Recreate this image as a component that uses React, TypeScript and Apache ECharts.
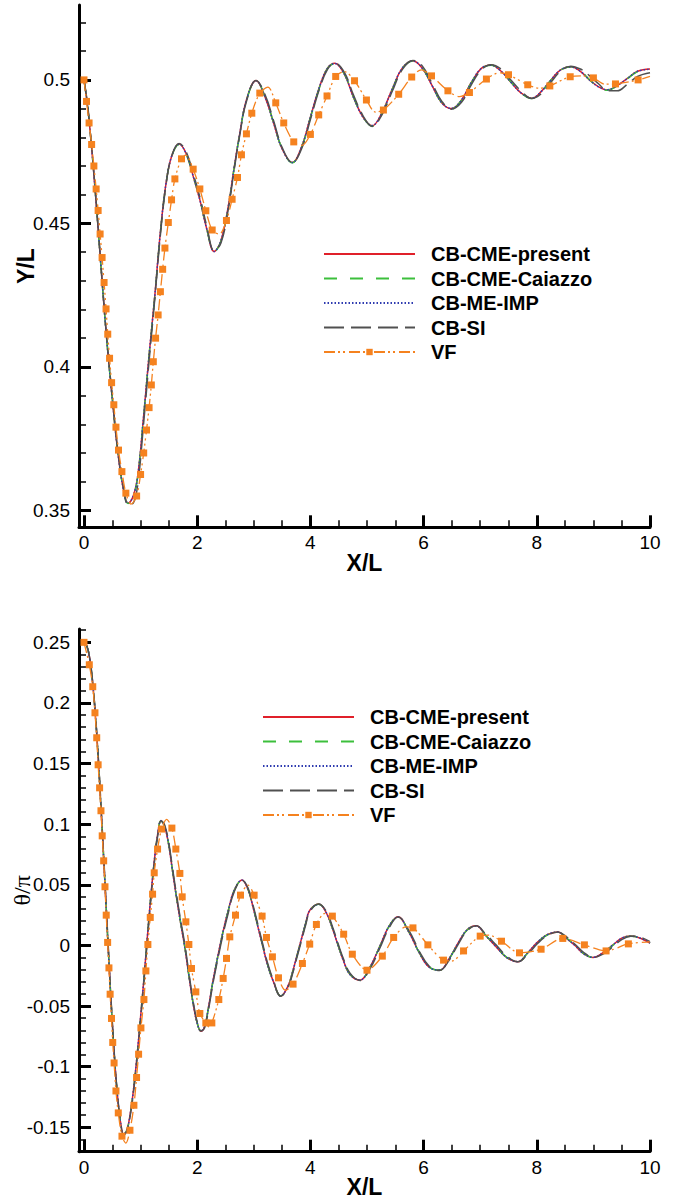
import React, { useEffect, useRef } from "react";
import * as echarts from "echarts";

const seriesNames = ["CB-CME-present", "CB-CME-Caiazzo", "CB-ME-IMP", "CB-SI", "VF"];

const xTicksMajor = [0, 2, 4, 6, 8, 10];
const xTicksMinor = [0.5, 1, 1.5, 2.5, 3, 3.5, 4.5, 5, 5.5, 6.5, 7, 7.5, 8.5, 9, 9.5];
const yTopMajor = [0.35, 0.4, 0.45, 0.5];
const yTopMinor = [0.36, 0.37, 0.38, 0.39, 0.41, 0.42, 0.43, 0.44, 0.46, 0.47, 0.48, 0.49, 0.51, 0.52];
const yBotMajor = [-0.15, -0.1, -0.05, 0, 0.05, 0.1, 0.15, 0.2, 0.25];
const yBotMinor = [-0.16, -0.14, -0.13, -0.12, -0.11, -0.09, -0.08, -0.07, -0.06, -0.04, -0.03, -0.02, -0.01,
  0.01, 0.02, 0.03, 0.04, 0.06, 0.07, 0.08, 0.09, 0.11, 0.12, 0.13, 0.14, 0.16, 0.17, 0.18, 0.19,
  0.21, 0.22, 0.23, 0.24, 0.26];

// ---- Top chart: Y/L ----
const xTop = [0, 0.05, 0.1, 0.2, 0.3, 0.4, 0.5, 0.6, 0.7, 0.78, 0.87, 0.95, 1.05, 1.15, 1.25, 1.35, 1.45, 1.55, 1.68,
  1.8, 1.95, 2.05, 2.17, 2.3, 2.42, 2.55, 2.65, 2.75, 2.87, 3.04, 3.2, 3.35, 3.5, 3.68, 3.85, 4.0, 4.16, 4.3, 4.43,
  4.6, 4.76, 4.93, 5.09, 5.25, 5.45, 5.62, 5.81, 5.98, 6.15, 6.32, 6.49, 6.67, 6.84, 7.02, 7.19, 7.37, 7.55, 7.72,
  7.91, 8.08, 8.25, 8.42, 8.6, 8.77, 8.93, 9.1, 9.25, 9.42, 9.6, 9.78, 10.0];
const yTopPresent = [0.5, 0.493, 0.484, 0.461, 0.435, 0.41, 0.389, 0.37, 0.357, 0.3525, 0.355, 0.362, 0.382, 0.404,
  0.4245, 0.447, 0.464, 0.4735, 0.4777, 0.4745, 0.465, 0.458, 0.448, 0.4402, 0.444, 0.456, 0.469, 0.481, 0.493,
  0.4998, 0.494, 0.485, 0.476, 0.4712, 0.477, 0.487, 0.4975, 0.504, 0.5058, 0.502, 0.494, 0.487, 0.484, 0.488,
  0.497, 0.504, 0.5067, 0.504, 0.498, 0.492, 0.49, 0.493, 0.499, 0.504, 0.5052, 0.503, 0.499, 0.4955, 0.4936,
  0.496, 0.5, 0.5035, 0.5046, 0.503, 0.5, 0.4975, 0.4965, 0.498, 0.5005, 0.503, 0.5038];
const yTopCaiazzo = [0.5, 0.493, 0.484, 0.461, 0.435, 0.41, 0.389, 0.37, 0.357, 0.3524, 0.3548, 0.3618, 0.3818, 0.4038,
  0.4243, 0.4468, 0.4638, 0.4733, 0.4775, 0.4744, 0.4651, 0.4581, 0.4481, 0.4401, 0.4438, 0.4558, 0.4688, 0.4808,
  0.4928, 0.4997, 0.4941, 0.4851, 0.4761, 0.4711, 0.4768, 0.4868, 0.4973, 0.5039, 0.5057, 0.5021, 0.4941, 0.4871,
  0.4839, 0.4878, 0.4968, 0.5039, 0.5066, 0.5041, 0.4981, 0.4921, 0.4899, 0.4929, 0.4989, 0.5039, 0.5051, 0.5031,
  0.4991, 0.4954, 0.4935, 0.4959, 0.4999, 0.5034, 0.5046, 0.5031, 0.5001, 0.4974, 0.4964, 0.4979, 0.5004, 0.5029,
  0.5037];
const yTopMeImp = [0.5, 0.493, 0.484, 0.461, 0.435, 0.41, 0.389, 0.37, 0.357, 0.3525, 0.355, 0.362, 0.382, 0.404,
  0.4245, 0.447, 0.464, 0.4735, 0.4776, 0.4745, 0.465, 0.458, 0.448, 0.4402, 0.444, 0.456, 0.469, 0.481, 0.493,
  0.4997, 0.494, 0.485, 0.476, 0.4712, 0.477, 0.487, 0.4975, 0.504, 0.5057, 0.502, 0.494, 0.487, 0.4841, 0.488,
  0.497, 0.504, 0.5066, 0.504, 0.498, 0.492, 0.4901, 0.493, 0.499, 0.504, 0.5051, 0.503, 0.499, 0.4955, 0.4937,
  0.496, 0.5, 0.5035, 0.5045, 0.503, 0.5, 0.4975, 0.4966, 0.498, 0.5005, 0.503, 0.5037];
const yTopSI = [0.5, 0.4935, 0.4845, 0.4615, 0.4355, 0.4105, 0.3895, 0.3705, 0.3575, 0.352, 0.3525, 0.359, 0.3795, 0.402,
  0.4235, 0.446, 0.4635, 0.4735, 0.4778, 0.4752, 0.466, 0.459, 0.449, 0.4405, 0.4432, 0.455, 0.4682, 0.4805, 0.4925,
  0.4998, 0.4948, 0.4858, 0.4765, 0.4712, 0.4763, 0.4862, 0.4968, 0.5036, 0.5058, 0.5026, 0.4948, 0.4875, 0.4838,
  0.4873, 0.4962, 0.5035, 0.5068, 0.5048, 0.4988, 0.4926, 0.4898, 0.4922, 0.4982, 0.5035, 0.5053, 0.5038, 0.4998,
  0.4962, 0.4935, 0.4952, 0.4992, 0.503, 0.5048, 0.5038, 0.5015, 0.4985, 0.4962, 0.4962, 0.4985, 0.5012, 0.5025];

const vfTopX = [0, 0.045, 0.09, 0.135, 0.175, 0.215, 0.25, 0.285, 0.32, 0.355, 0.39, 0.42, 0.452, 0.488, 0.527, 0.565,
  0.61, 0.67, 0.74, 0.83, 0.93, 1.0, 1.055, 1.105, 1.15, 1.19, 1.225, 1.265, 1.31, 1.35, 1.39, 1.43, 1.49, 1.547,
  1.606, 1.723, 1.8, 1.929, 2.047, 2.153, 2.265, 2.39, 2.517, 2.617, 2.712, 2.782, 2.87, 2.965, 3.106, 3.25, 3.388,
  3.529, 3.706, 3.85, 4.0, 4.147, 4.294, 4.447, 4.6, 4.78, 4.99, 5.15, 5.29, 5.56, 5.79, 5.96, 6.14, 6.43, 6.63,
  6.81, 7.11, 7.34, 7.5, 7.84, 8.05, 8.23, 8.59, 8.81, 9.0, 9.2, 9.39, 9.79, 10.0];
const vfTopY = [0.5, 0.4925, 0.485, 0.4775, 0.47, 0.462, 0.4545, 0.4463, 0.4381, 0.4294, 0.4202, 0.4114, 0.403, 0.3945,
  0.3868, 0.379, 0.371, 0.3635, 0.356, 0.3522, 0.355, 0.3625, 0.37, 0.378, 0.3858, 0.3937, 0.4018, 0.41, 0.4181,
  0.4262, 0.434, 0.4414, 0.4503, 0.4582, 0.4655, 0.4725, 0.4738, 0.4689, 0.462, 0.4544, 0.4477, 0.4462, 0.451,
  0.4584, 0.466, 0.4739, 0.4812, 0.4884, 0.4954, 0.4975, 0.492, 0.485, 0.4784, 0.4772, 0.481, 0.4878, 0.4944,
  0.5012, 0.5029, 0.4997, 0.493, 0.4888, 0.4895, 0.495, 0.501, 0.5035, 0.5014, 0.4962, 0.4942, 0.4956, 0.5003,
  0.5025, 0.5018, 0.4983, 0.4971, 0.4979, 0.5011, 0.5014, 0.5007, 0.4985, 0.4986, 0.5, 0.5012];
const vfTopMark = [1, 1, 1, 1, 1, 1, 1, 1, 1, 1, 1, 1, 1, 1, 1, 1, 1, 1, 1, 0, 1, 1, 1, 1, 1, 1, 1, 1, 1, 1, 1, 1, 1, 1,
  1, 1, 0, 1, 1, 1, 1, 0, 1, 1, 1, 1, 1, 1, 1, 0, 1, 1, 1, 0, 1, 1, 1, 1, 0, 1, 1, 0, 1, 1, 1, 0, 1, 1, 0, 1, 1, 0,
  1, 1, 0, 1, 1, 0, 1, 0, 1, 1, 0];

// ---- Bottom chart: theta/pi ----
const xBot = [0, 0.05, 0.1, 0.15, 0.2, 0.25, 0.3, 0.35, 0.4, 0.45, 0.5, 0.55, 0.6, 0.65, 0.7, 0.76, 0.82, 0.88, 0.94,
  1.0, 1.06, 1.12, 1.18, 1.25, 1.3, 1.36, 1.42, 1.49, 1.56, 1.63, 1.71, 1.78, 1.86, 1.94, 2.0, 2.065, 2.13, 2.2,
  2.28, 2.36, 2.45, 2.55, 2.65, 2.79, 2.9, 2.99, 3.07, 3.16, 3.25, 3.34, 3.476, 3.6, 3.69, 3.77, 3.84, 3.92, 3.99,
  4.147, 4.28, 4.4, 4.49, 4.58, 4.7, 4.876, 5.05, 5.224, 5.39, 5.547, 5.74, 5.93, 6.1, 6.282, 6.45, 6.606, 6.77,
  6.929, 7.1, 7.28, 7.47, 7.665, 7.84, 8.018, 8.19, 8.371, 8.52, 8.67, 8.83, 8.994, 9.17, 9.34, 9.5, 9.66, 9.83, 10];
const yBotPresent = [0.25, 0.247, 0.237, 0.218, 0.191, 0.156, 0.114, 0.07, 0.024, -0.022, -0.064, -0.1, -0.128, -0.147,
  -0.156, -0.152, -0.138, -0.117, -0.09, -0.059, -0.027, 0.007, 0.04, 0.073, 0.091, 0.103, 0.099, 0.085, 0.063,
  0.041, 0.018, -0.001, -0.027, -0.051, -0.064, -0.0707, -0.067, -0.051, -0.029, -0.01, 0.01, 0.029, 0.045, 0.054,
  0.046, 0.031, 0.016, -0.001, -0.017, -0.029, -0.0418, -0.034, -0.021, -0.007, 0.005, 0.019, 0.029, 0.0341, 0.027,
  0.0126, 0.0, -0.012, -0.024, -0.0286, -0.018, -0.001, 0.016, 0.0236, 0.011, -0.0066, -0.018, -0.0204, -0.011,
  0.0017, 0.013, 0.0162, 0.008, -0.001, -0.01, -0.0135, -0.006, 0.003, 0.009, 0.0112, 0.006, 0.0002, -0.007,
  -0.0099, -0.006, 0.0002, 0.006, 0.0077, 0.006, 0.002];
const yBotCaiazzo = [0.25, 0.247, 0.237, 0.218, 0.191, 0.156, 0.114, 0.0705, 0.0245, -0.0215, -0.0635, -0.0995,
  -0.1275, -0.1468, -0.1558, -0.1522, -0.1382, -0.1172, -0.0902, -0.0592, -0.0272, 0.0068, 0.0398, 0.0728, 0.0908,
  0.1028, 0.0992, 0.0852, 0.0632, 0.0412, 0.0182, -0.0008, -0.0268, -0.0508, -0.0638, -0.0705, -0.0672, -0.0512,
  -0.0292, -0.0102, 0.0098, 0.0288, 0.0448, 0.0538, 0.0462, 0.0312, 0.0162, -0.0008, -0.0168, -0.0288, -0.0416,
  -0.0342, -0.0212, -0.0072, 0.0048, 0.0188, 0.0288, 0.034, 0.0272, 0.0128, 0.0002, -0.0118, -0.0238, -0.0285,
  -0.0182, -0.0012, 0.0158, 0.0235, 0.0112, -0.0064, -0.0178, -0.0203, -0.0112, 0.0015, 0.0128, 0.0161, 0.0082,
  -0.0008, -0.0098, -0.0134, -0.0062, 0.0028, 0.0088, 0.0111, 0.0062, 0.0004, -0.0068, -0.0098, -0.0062, 0.0, 0.0058,
  0.0076, 0.0062, 0.0022];
const yBotMeImp = [0.25, 0.247, 0.237, 0.218, 0.191, 0.156, 0.114, 0.07, 0.024, -0.022, -0.064, -0.1, -0.128, -0.147,
  -0.1559, -0.152, -0.138, -0.117, -0.09, -0.059, -0.027, 0.007, 0.04, 0.073, 0.091, 0.1029, 0.099, 0.085, 0.063,
  0.041, 0.018, -0.001, -0.027, -0.051, -0.064, -0.0706, -0.067, -0.051, -0.029, -0.01, 0.01, 0.029, 0.045, 0.0539,
  0.046, 0.031, 0.016, -0.001, -0.017, -0.029, -0.0417, -0.034, -0.021, -0.007, 0.005, 0.019, 0.029, 0.034, 0.027,
  0.0126, 0.0, -0.012, -0.024, -0.0285, -0.018, -0.001, 0.016, 0.0235, 0.011, -0.0066, -0.018, -0.0203, -0.011,
  0.0017, 0.013, 0.0161, 0.008, -0.001, -0.01, -0.0134, -0.006, 0.003, 0.009, 0.0111, 0.006, 0.0002, -0.007,
  -0.0098, -0.006, 0.0002, 0.006, 0.0076, 0.006, 0.002];
const yBotSI = [0.25, 0.2472, 0.2375, 0.2188, 0.192, 0.1575, 0.1158, 0.072, 0.026, -0.02, -0.0625, -0.099, -0.1272,
  -0.1468, -0.1562, -0.153, -0.1395, -0.119, -0.0922, -0.0615, -0.0295, 0.0045, 0.0375, 0.0712, 0.0898, 0.1025,
  0.1, 0.0868, 0.0652, 0.0432, 0.0202, 0.0012, -0.0248, -0.0492, -0.0628, -0.0705, -0.068, -0.0528, -0.031,
  -0.0122, 0.0078, 0.027, 0.0438, 0.0538, 0.0472, 0.0325, 0.0178, 0.0008, -0.0155, -0.0278, -0.0418, -0.0352,
  -0.0225, -0.0085, 0.0035, 0.0175, 0.0278, 0.0342, 0.0282, 0.0142, 0.0014, -0.0105, -0.0228, -0.0288, -0.0195,
  -0.0025, 0.0145, 0.0234, 0.0125, -0.0052, -0.0172, -0.0207, -0.0122, 0.0005, 0.0122, 0.0162, 0.0092, 0.0005,
  -0.0088, -0.0135, -0.0072, 0.0018, 0.0082, 0.0112, 0.0072, 0.0012, -0.0058, -0.0098, -0.0072, -0.0012, 0.0048,
  0.0076, 0.0068, 0.0032];

const vfBotX = [0, 0.094, 0.155, 0.194, 0.225, 0.25, 0.276, 0.3, 0.322, 0.348, 0.371, 0.393, 0.418, 0.441, 0.462,
  0.486, 0.508, 0.532, 0.565, 0.606, 0.671, 0.74, 0.812, 0.882, 0.929, 0.965, 1.006, 1.059, 1.094, 1.129, 1.171,
  1.212, 1.241, 1.3, 1.371, 1.46, 1.553, 1.623, 1.694, 1.735, 1.8, 1.853, 1.9, 1.976, 2.047, 2.153, 2.206, 2.259,
  2.382, 2.459, 2.518, 2.576, 2.677, 2.765, 2.9, 3.006, 3.147, 3.224, 3.329, 3.436, 3.56, 3.694, 3.859, 3.988,
  4.106, 4.26, 4.388, 4.588, 4.741, 5.0, 5.271, 5.471, 5.69, 5.812, 6.076, 6.353, 6.5, 6.706, 7.0, 7.15, 7.376,
  7.694, 8.076, 8.459, 8.841, 9.224, 9.618, 10];
const vfBotY = [0.25, 0.2315, 0.2134, 0.1919, 0.1713, 0.149, 0.13, 0.1111, 0.0904, 0.0698, 0.0484, 0.025, 0.0025,
  -0.0185, -0.0402, -0.0602, -0.08, -0.0969, -0.12, -0.1381, -0.1573, -0.163, -0.1524, -0.1318, -0.1089, -0.0897,
  -0.068, -0.0446, -0.021, 0.0008, 0.0231, 0.0423, 0.0599, 0.0795, 0.096, 0.104, 0.0968, 0.0795, 0.0594, 0.0401,
  0.0195, 0.0008, -0.019, -0.0383, -0.0561, -0.0639, -0.0671, -0.0639, -0.0446, -0.0272, -0.0107, 0.0071, 0.025,
  0.0415, 0.0497, 0.0415, 0.0242, 0.0066, -0.0094, -0.0267, -0.0369, -0.0319, -0.0149, 0.0011, 0.0173, 0.0265,
  0.0242, 0.0093, -0.0072, -0.0204, -0.0088, 0.0066, 0.0153, 0.0145, 0.0005, -0.0121, -0.0128, -0.0045, 0.0077,
  0.0085, 0.0035, -0.0061, -0.0031, 0.0058, 0.0005, -0.0045, 0.0013, 0.003];
const vfBotMark = [1, 1, 1, 1, 1, 1, 1, 1, 1, 1, 1, 1, 1, 1, 1, 1, 1, 1, 1, 1, 1, 0, 1, 1, 1, 1, 1, 1, 1, 1, 1, 1, 1, 1,
  1, 0, 1, 1, 1, 1, 1, 1, 1, 1, 1, 1, 0, 1, 1, 1, 1, 1, 1, 1, 0, 1, 1, 1, 1, 1, 0, 1, 1, 1, 1, 0, 1, 1, 1, 1, 1, 1,
  0, 1, 1, 1, 0, 1, 1, 0, 1, 1, 1, 1, 1, 1, 1, 0];

const colors = ["#e0202a", "#3cbf3c", "#2e3bb0", "#505050", "#f5821f"];
const dashes: any[] = ["solid", [13, 13], [1.5, 2], [20, 7], [11, 3, 2, 3, 2, 4]];

const FONT = "Liberation Sans";

function axesX(gridIndex: number) {
  const base = {
    type: "value", gridIndex, min: -0.088, max: 10, position: "bottom",
    splitLine: { show: false },
  };
  return [
    {
      ...base,
      name: "X/L", nameLocation: "middle", nameGap: 24, nameMoveOverlap: false,
      nameTextStyle: { fontFamily: FONT, fontSize: 23, fontWeight: "bold", color: "#000" },
      axisLine: { show: true, onZero: false, lineStyle: { color: "#000", width: 3 } },
      axisTick: { show: true, inside: true, length: 12, customValues: xTicksMajor, lineStyle: { color: "#000", width: 3 } },
      axisLabel: { show: true, customValues: xTicksMajor, margin: 6, fontFamily: FONT, fontSize: 19, color: "#000" },
    },
    {
      ...base,
      axisLine: { show: false, onZero: false },
      axisTick: { show: true, inside: true, length: 7, customValues: xTicksMinor, lineStyle: { color: "#000", width: 1.5 } },
      axisLabel: { show: false },
    },
  ];
}

function axesY(gridIndex: number, min: number, max: number, major: number[], minor: number[], name: string, nameStyle: any, nameGap: number) {
  const base = { type: "value", gridIndex, min, max, position: "left", splitLine: { show: false } };
  return [
    {
      ...base,
      name, nameLocation: "middle", nameGap, nameTextStyle: nameStyle, nameMoveOverlap: false,
      axisLine: { show: true, onZero: false, lineStyle: { color: "#000", width: 3 } },
      axisTick: { show: true, inside: true, length: 12, customValues: major, lineStyle: { color: "#000", width: 3 } },
      axisLabel: { show: true, customValues: major, margin: 9, fontFamily: FONT, fontSize: 19, color: "#000" },
    },
    {
      ...base,
      axisLine: { show: false, onZero: false },
      axisTick: { show: true, inside: true, length: 7, customValues: minor, lineStyle: { color: "#000", width: 1.5 } },
      axisLabel: { show: false },
    },
  ];
}

function mainSeries(idx: number, xs: number[], ys: number[], axis: number) {
  return {
    type: "line", name: seriesNames[idx], xAxisIndex: axis, yAxisIndex: axis,
    data: xs.map((x, i) => [x, ys[i]]),
    symbol: "none", smooth: 0.4,
    lineStyle: { color: colors[idx], width: 1.5, type: dashes[idx] },
    itemStyle: { color: colors[idx] },
  };
}

function vfSeries(xs: number[], ys: number[], mark: number[], axis: number) {
  return {
    type: "line", name: seriesNames[4], xAxisIndex: axis, yAxisIndex: axis,
    data: xs.map((x, i) => ({ value: [x, ys[i]], symbol: mark[i] ? "rect" : "none" })),
    symbol: "rect", symbolSize: 7, showSymbol: true, smooth: 0.3,
    lineStyle: { color: colors[4], width: 1.3, type: dashes[4] },
    itemStyle: { color: colors[4] },
  };
}

function legend(left: number, top: number) {
  return {
    orient: "vertical", left, top, padding: 0, itemWidth: 91, itemHeight: 8, itemGap: 4.5,
    selectedMode: false,
    data: seriesNames.map((n, i) =>
      i < 4 ? { name: n, itemStyle: { opacity: 0, borderWidth: 0 } } : { name: n }
    ),
    textStyle: { fontFamily: FONT, fontSize: 20, fontWeight: "bold", color: "#000", lineHeight: 20, padding: [0, 0, 0, 11] },
  };
}

export default function App() {
  const ref = useRef<HTMLDivElement>(null);
  useEffect(() => {
    const chart = echarts.init(ref.current!, null, { renderer: "svg" });
    const option: any = {
      animation: false,
      backgroundColor: "#ffffff",
      grid: [
        { left: 79, top: 5, width: 571, height: 522.3, outerBoundsMode: "none" },
        { left: 79, top: 629, width: 571, height: 522.7, outerBoundsMode: "none" },
      ],
      xAxis: [...axesX(0), ...axesX(1)],
      yAxis: [
        ...axesY(0, 0.3441, 0.5261, yTopMajor, yTopMinor, "Y/L",
          { fontFamily: FONT, fontSize: 23, fontWeight: "bold", color: "#000" }, 42),
        ...axesY(1, -0.1701, 0.261, yBotMajor, yBotMinor, "θ/π",
          { fontFamily: "Liberation Serif", fontSize: 24, color: "#000" }, 45),
      ],
      legend: [legend(323, 244), legend(262, 707)],
      series: [
        mainSeries(0, xTop, yTopPresent, 0),
        mainSeries(1, xTop, yTopCaiazzo, 0),
        mainSeries(2, xTop, yTopMeImp, 0),
        mainSeries(3, xTop, yTopSI, 0),
        vfSeries(vfTopX, vfTopY, vfTopMark, 0),
        mainSeries(0, xBot, yBotPresent, 2),
        mainSeries(1, xBot, yBotCaiazzo, 2),
        mainSeries(2, xBot, yBotMeImp, 2),
        mainSeries(3, xBot, yBotSI, 2),
        vfSeries(vfBotX, vfBotY, vfBotMark, 2),
      ],
    };
    chart.setOption(option);
    return () => chart.dispose();
  }, []);
  return (
    <div
      ref={ref}
      style={{ position: "absolute", left: 0, top: 0, width: 677, height: 1200, background: "#fff" }}
    />
  );
}
